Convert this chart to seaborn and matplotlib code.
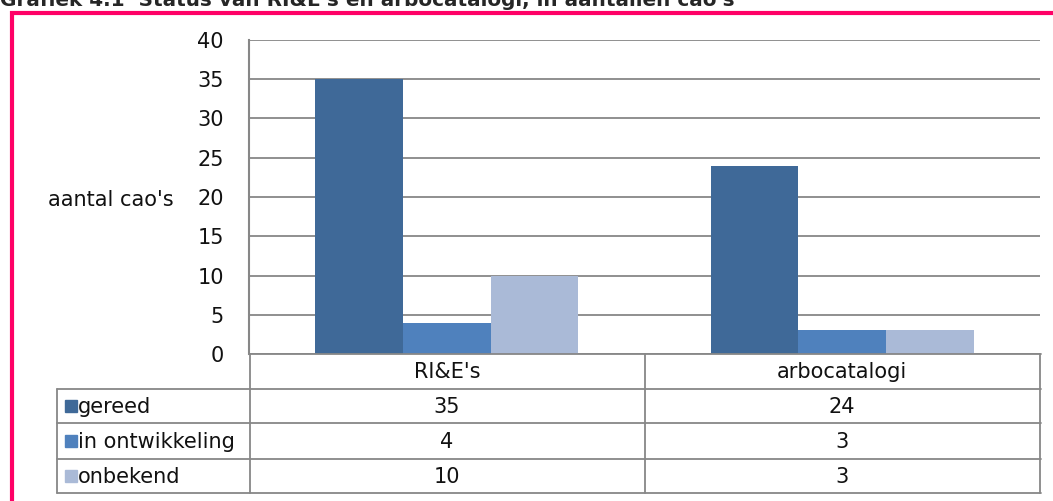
import matplotlib
matplotlib.use("Agg")
import matplotlib.pyplot as plt
import seaborn as sns
import pandas as pd
from matplotlib.patches import Rectangle

categories = ["RI&E's", "arbocatalogi"]
series = ["gereed", "in ontwikkeling", "onbekend"]
gereed = [35, 24]
in_ontwikkeling = [4, 3]
onbekend = [10, 3]
colors = ["#3F6998", "#4F81BD", "#AABAD7"]
yticks = [0, 5, 10, 15, 20, 25, 30, 35, 40]
title = "Grafiek 4.1  Status van RI&E's en arbocatalogi, in aantallen cao's"
ylabel = "aantal cao's"

values = {"gereed": gereed, "in ontwikkeling": in_ontwikkeling, "onbekend": onbekend}
rows = []
for s in series:
    for c, v in zip(categories, values[s]):
        rows.append({"cat": c, "status": s, "n": v})
df = pd.DataFrame(rows)

sns.set_style("white")
plt.rcParams["font.family"] = ["DejaVu Sans"]

W, H = 1053, 501
fig = plt.figure(figsize=(W / 100, H / 100), dpi=100)
grid = "#878787"
txt = "#111111"

# main plot area in pixel terms
x0, x1, y0, y1 = 249, 1040, 40, 354
ax = fig.add_axes([x0 / W, 1 - y1 / H, (x1 - x0) / W, (y1 - y0) / H])
sns.barplot(data=df, x="cat", y="n", hue="status", hue_order=series, order=categories,
            palette=colors, width=0.665, saturation=1, legend=False, ax=ax, zorder=3,
            linewidth=0, edgecolor="none")
ax.set_xlim(-0.5, 1.5)
ax.set_ylim(0, 40)
ax.set_yticks(yticks)
ax.set_yticklabels([str(t) for t in yticks], fontsize=15, color=txt)
ax.tick_params(axis="y", length=0, pad=18)
ax.set_xticks([])
ax.set_xlabel("")
ax.set_ylabel("")
for t in yticks:
    ax.axhline(t, color=grid, lw=1.3, zorder=1)
for sp in ["top", "right", "bottom"]:
    ax.spines[sp].set_visible(False)
ax.spines["left"].set_color(grid)
ax.spines["left"].set_linewidth(1.5)

fig.text(48 / W, 1 - 200 / H, ylabel, fontsize=15, va="center", ha="left", color=txt)

# decoration / table layer in pixel coordinates
deco = fig.add_axes([0, 0, 1, 1])
deco.set_xlim(0, W)
deco.set_ylim(H, 0)
deco.axis("off")

pink = "#FF0066"
deco.plot([12, 12], [11, H], color=pink, lw=3, solid_capstyle="butt")
deco.plot([10, W], [13, 13], color=pink, lw=3, solid_capstyle="butt")

fig.text(0.0, 1 - 6 / H, title, fontsize=14.4, fontweight="bold", va="baseline", ha="left")

row_edges = [354, 389, 423, 459, 493]
tl, tm, tr = 57, 250, 1041
cw = (x1 - x0) / len(categories)
centers = [x0 + (i + 0.5) * cw for i in range(len(categories))]
lw = 1.3
deco.plot([tm, tm], [row_edges[0], row_edges[-1]], color=grid, lw=lw)
deco.plot([tl, tl], [row_edges[1], row_edges[-1]], color=grid, lw=lw)
for i in range(1, len(categories) + 1):
    xx = x0 + i * cw
    deco.plot([xx, xx], [row_edges[0], row_edges[-1]], color=grid, lw=lw)
deco.plot([tm, tr], [row_edges[0], row_edges[0]], color=grid, lw=lw)
for ye in row_edges[1:]:
    deco.plot([tl, tr], [ye, ye], color=grid, lw=lw)

for c, cx in zip(categories, centers):
    deco.text(cx, (row_edges[0] + row_edges[1]) / 2 + 1, c, ha="center", va="center",
              fontsize=15, color=txt)
for r, s in enumerate(series):
    yc = (row_edges[r + 1] + row_edges[r + 2]) / 2
    deco.add_patch(Rectangle((65, yc - 6), 12, 12, color=colors[r]))
    deco.text(78, yc + 1, s, ha="left", va="center", fontsize=15, color=txt)
    for cx, v in zip(centers, values[s]):
        deco.text(cx, yc + 1, str(v), ha="center", va="center", fontsize=15, color=txt)

fig.savefig("out.png", dpi=100)
